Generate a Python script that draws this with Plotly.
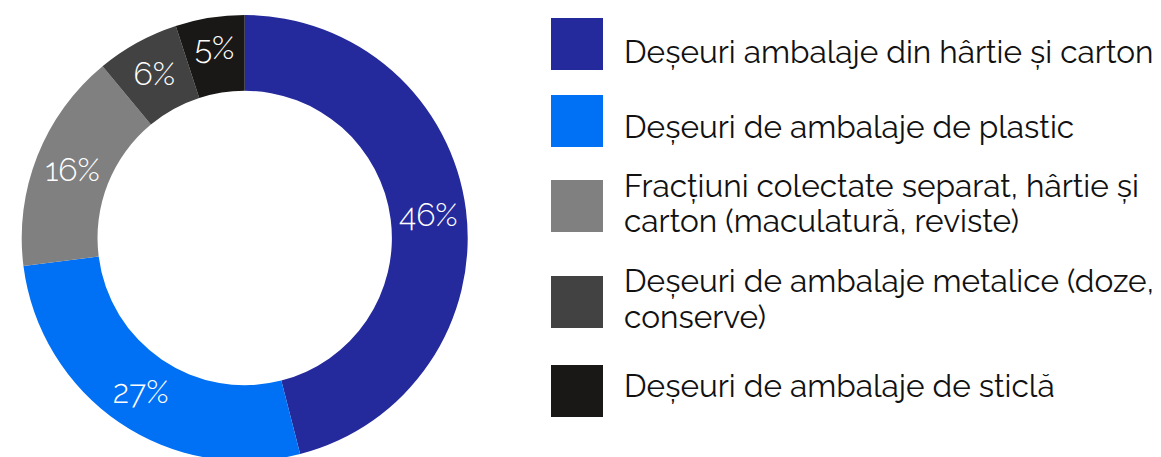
import plotly.graph_objects as go

categories = [
    "Deșeuri ambalaje din hârtie și carton",
    "Deșeuri de ambalaje de plastic",
    "Fracțiuni colectate separat, hârtie și<br>carton (maculatură, reviste)",
    "Deșeuri de ambalaje metalice (doze,<br>conserve)",
    "Deșeuri de ambalaje de sticlă",
]
values = [46, 27, 16, 6, 5]
colors = ["#24299C", "#0070F5", "#808080", "#424242", "#1A1816"]

# page offset of the plot div (default body margin)
OFF = 8
W, H = 1161, 460
FONT = "Raleway, Lato, 'Open Sans', sans-serif"
FS = 32
LFS = 31.6


def px(x):
    return (x - OFF) / W


def py(y):
    return 1 - (y - OFF) / H


fig = go.Figure()
fig.add_trace(go.Pie(
    labels=categories,
    values=values,
    hole=0.66,
    sort=False,
    direction="clockwise",
    rotation=0,
    marker=dict(colors=colors, line=dict(width=0)),
    texttemplate="%{percent:.0%}",
    textposition="inside",
    insidetextorientation="horizontal",
    textfont=dict(color="white", size=FS, family=FONT, weight=300),
    domain=dict(x=[px(21.7), px(467.7)], y=[py(461), py(15)]),
    showlegend=False,
    hoverinfo="label+percent",
))

# custom legend: squares + labels (one annotation per text line)
square_tops = [18, 95, 180, 276, 365]
first_baselines = [62, 138, 196, 291.7, 396.7]
LINE = 35.5
shapes = []
annotations = []
for cat, col, top, base in zip(categories, colors, square_tops, first_baselines):
    shapes.append(dict(
        type="rect", xref="paper", yref="paper",
        x0=px(551), x1=px(603), y0=py(top), y1=py(top + 52),
        fillcolor=col, line=dict(width=0),
    ))
    for i, line in enumerate(cat.split("<br>")):
        annotations.append(dict(
            xref="paper", yref="paper", x=px(625 - 3), y=py(base + i * LINE - 11),
            xanchor="left", yanchor="middle", align="left",
            text=line, showarrow=False,
            font=dict(family=FONT, size=LFS, color="#111111"),
        ))

fig.update_layout(
    width=W, height=H,
    margin=dict(l=0, r=0, t=0, b=0),
    paper_bgcolor="white", plot_bgcolor="white",
    shapes=shapes, annotations=annotations,
    uniformtext=dict(minsize=FS, mode="show"),
)

fig.write_html("out.html")
